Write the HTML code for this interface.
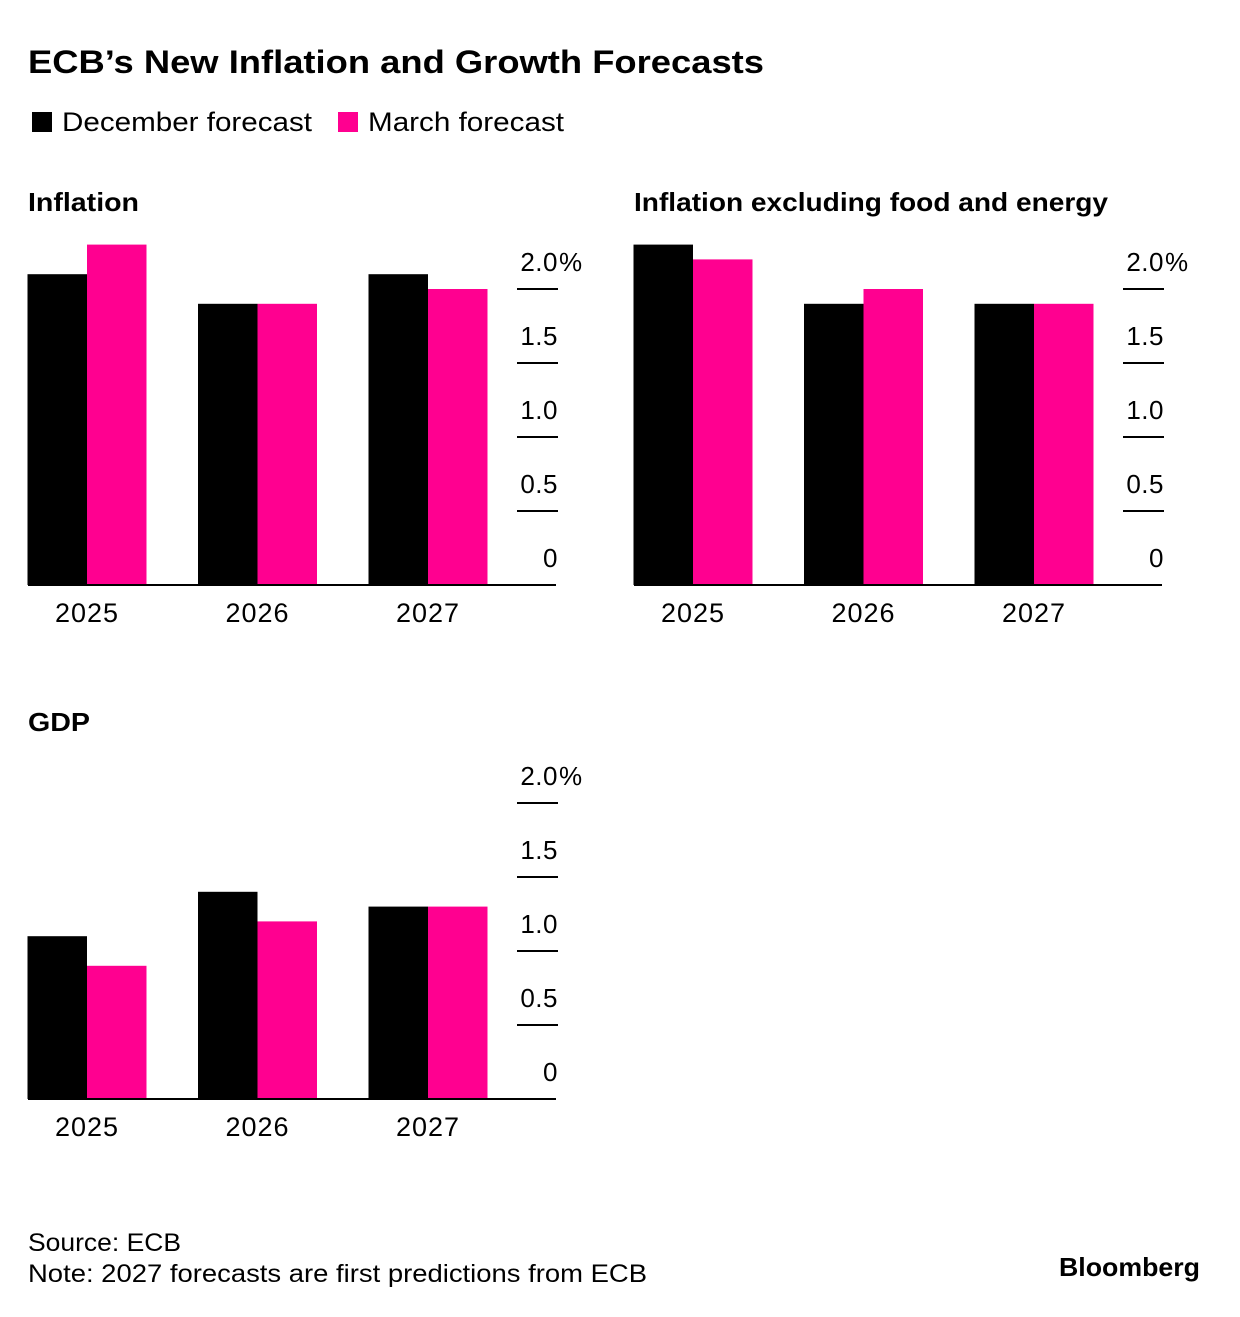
<!DOCTYPE html>
<html><head><meta charset="utf-8">
<style>
body{margin:0;background:#fff;font-family:"Liberation Sans",Arial,sans-serif;}
svg text{font-family:"Liberation Sans",Arial,sans-serif;}
</style></head>
<body>
<svg width="1240" height="1312" viewBox="0 0 1240 1312" xmlns="http://www.w3.org/2000/svg" id="chart">
<text x="28" y="73" font-size="32" font-weight="bold" fill="#000" textLength="736" lengthAdjust="spacingAndGlyphs">ECB’s New Inflation and Growth Forecasts</text>
<g>
<rect x="32" y="112" width="20" height="20" fill="#000"/>
<text x="62" y="131" font-size="27" textLength="250" lengthAdjust="spacingAndGlyphs">December forecast</text>
<rect x="338" y="112" width="20" height="20" fill="#ff0090"/>
<text x="368" y="131" font-size="27" textLength="196" lengthAdjust="spacingAndGlyphs">March forecast</text>
</g>
<text x="28" y="1251" font-size="25" textLength="153" lengthAdjust="spacingAndGlyphs">Source: ECB</text>
<text x="28" y="1282" font-size="25" textLength="619" lengthAdjust="spacingAndGlyphs">Note: 2027 forecasts are first predictions from ECB</text>
<text x="1059" y="1276" font-size="26" font-weight="bold" textLength="141" lengthAdjust="spacingAndGlyphs">Bloomberg</text>
</svg>
<script>
const categories = ["2025","2026","2027"];
const inflDec = [2.1,1.9,2.1];
const inflMar = [2.3,1.9,2.0];
const coreDec = [2.3,1.9,1.9];
const coreMar = [2.2,2.0,1.9];
const gdpDec = [1.1,1.4,1.3];
const gdpMar = [0.9,1.2,1.3];
const tickValues = [0,0.5,1.0,1.5,2.0];
const tickLabels = ["0","0.5","1.0","1.5","2.0"];

const NS="http://www.w3.org/2000/svg";
const svg=document.getElementById('chart');
function mk(tag,attrs,parent){const e=document.createElementNS(NS,tag);for(const k in attrs)e.setAttribute(k,attrs[k]);(parent||svg).appendChild(e);return e;}

function panel(ox,base,title,titleY,titleLen,dec,mar,name){
  const g=mk('g',{});
  
  
  const t=mk('text',{x:ox,y:titleY,'font-size':26,'font-weight':'bold',textLength:titleLen,lengthAdjust:'spacingAndGlyphs'},g);t.textContent=title;
  
  
  const pxPer=148;
  const y=v=>base-v*pxPer;
  const gx=i=>ox+59+i*170.5;
  const bw=59.5;
  tickValues.forEach((v,i)=>{
    if(v>0){
      const l=mk('line',{x1:ox+489,x2:ox+530,y1:y(v),y2:y(v),stroke:'#000','stroke-width':2},g);
      
      
    }
    const tx=mk('text',{x:ox+530,y:y(v)-18,'font-size':26,'text-anchor':'end','letter-spacing':'0.5'},g);
    tx.textContent=tickLabels[i];
    
    
    if(i===tickValues.length-1){
      const p=mk('text',{x:ox+531,y:y(v)-18,'font-size':26},g);p.textContent='%';
      
      
    }
  });
  categories.forEach((c,i)=>{
    const r1=mk('rect',{x:gx(i)-bw,y:y(dec[i]),width:bw,height:dec[i]*pxPer,fill:'#000'},g);
    
    
    const r2=mk('rect',{x:gx(i),y:y(mar[i]),width:bw,height:mar[i]*pxPer,fill:'#ff0090'},g);
    
    
    const lt=mk('text',{x:gx(i),y:base+37,'font-size':27,'text-anchor':'middle','letter-spacing':'1'},g);lt.textContent=c;
    
    
  });
  const ax=mk('line',{x1:ox,x2:ox+528,y1:base,y2:base,stroke:'#000','stroke-width':2},g);
  
  
}
panel(28,585,"Inflation",211,111,inflDec,inflMar,'inflation');
panel(634,585,"Inflation excluding food and energy",211,474,coreDec,coreMar,'core-inflation');
panel(28,1099,"GDP",731,62,gdpDec,gdpMar,'gdp');
</script>
</body></html>
